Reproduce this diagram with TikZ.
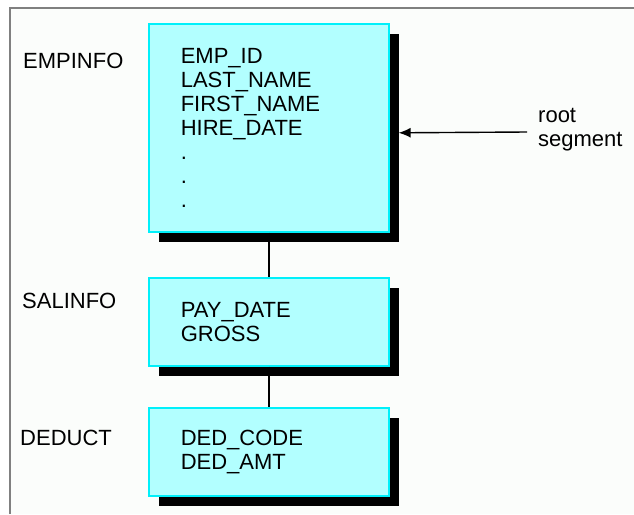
\documentclass[tikz,border=0pt]{standalone}
\usepackage{fontspec}
\setmainfont{Liberation Sans}
\usetikzlibrary{shadows,arrows.meta}
\definecolor{segfill}{RGB}{178,255,255}
\definecolor{segline}{RGB}{0,240,250}
\definecolor{paper}{RGB}{251,253,251}
\definecolor{framegray}{RGB}{128,128,128}
\begin{document}
\begin{tikzpicture}[x=1pt,y=-1pt,
  segbox/.style={draw=segline,line width=1.6pt,fill=segfill,anchor=north west,
    minimum width=240pt,text width=176pt,inner xsep=32pt,inner ysep=0pt,align=left,
    font=\fontsize{22}{24}\selectfont,
    drop shadow={shadow xshift=10pt,shadow yshift=-10pt,fill=black,opacity=1}},
  seglabel/.style={anchor=base west,inner sep=0pt,font=\fontsize{22}{24}\selectfont},
  link/.style={line width=1.4pt}]

 \useasboundingbox (0,0) rectangle (634,514);
 \fill[paper] (10,8) rectangle (634,514);
 \draw[framegray,line width=2pt] (10,514) -- (10,8) -- (634,8);

 \node[segbox,minimum height=208pt] (empinfo) at (148,23)
   {EMP\_ID\\LAST\_NAME\\FIRST\_NAME\\HIRE\_DATE\\.\\.\\.};
 \node[segbox,minimum height=88pt] (salinfo) at (148,277) {PAY\_DATE\\GROSS};
 \node[segbox,minimum height=88pt] (deduct) at (148,407) {DED\_CODE\\DED\_AMT};

 \draw[link] (empinfo.south) -- (salinfo.north);
 \draw[link] (salinfo.south) -- (deduct.north);

 \node[seglabel] (empname) at (23,68) {EMPINFO};
 \node[seglabel] (salname) at (22,308) {SALINFO};
 \node[seglabel] (dedname) at (20,445) {DEDUCT};

 \node[seglabel,align=left] (root) at (538,146) {root\\segment};
 \coordinate (rootend) at (527,132);
 \draw[link,-{Latex[length=12pt,width=10pt]}] (rootend) -- ([xshift=9pt,yshift=-5pt]empinfo.east);
\end{tikzpicture}
\end{document}
